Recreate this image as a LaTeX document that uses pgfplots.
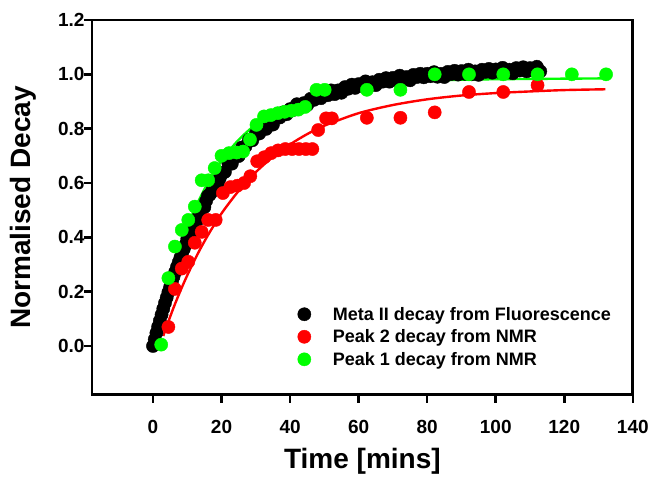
\documentclass[border=0pt]{standalone}
\usepackage{fontspec}
\setmainfont{Liberation Sans}
\usepackage{pgfplots}
\pgfplotsset{compat=1.18}
\definecolor{ngreen}{RGB}{0,255,0}
\definecolor{nred}{RGB}{255,0,0}

\begin{document}
\begin{tikzpicture}
\begin{axis}[
    scale only axis,
    width=541pt, height=375pt,
    xmin=-17.8, xmax=140,
    ymin=-0.18, ymax=1.2,
    xtick={0,20,40,60,80,100,120,140},
    ytick={0,0.2,0.4,0.6,0.8,1.0,1.2},
    yticklabel style={xshift=4pt, /pgf/number format/.cd, fixed, fixed zerofill, precision=1},
    /pgf/number format/assume math mode=true,
    tick label style={font=\fontsize{19}{22}\selectfont\bfseries},
    xticklabel style={yshift=-14pt},
    xtick pos=bottom, ytick pos=left,
    tick align=outside,
    major tick length=8pt,
    tick style={black, line width=2.6pt},
    axis line style={line width=2.8pt},
    xlabel={Time [mins]},
    ylabel={Normalised Decay},
    label style={font=\fontsize{28}{32}\selectfont\bfseries},
    xlabel style={at={(axis description cs:0.5,-0.1773)}, anchor=center},
    ylabel style={at={(axis description cs:-0.1275,0.5)}, anchor=center},
    legend cell align=left,
    legend style={draw=none, fill=none, at={(0.3745,0.155)}, anchor=west,
        font=\fontsize{18}{21}\selectfont\bfseries, row sep=4pt,
        /tikz/every odd column/.append style={column sep=20pt}},
]
% Meta II decay from Fluorescence
\addplot[only marks, mark=*, mark size=6.6pt, color=black] coordinates {
(0,0.000) (0.5,0.024) (1,0.048) (1.5,0.071) (2,0.093) (2.5,0.115) (3,0.137) (3.5,0.158) (4,0.178) (4.5,0.198)
(5,0.217) (5.5,0.236) (6,0.255) (6.5,0.273) (7,0.291) (7.5,0.308) (8,0.325) (8.5,0.341) (9,0.357) (9.5,0.373)
(10,0.394) (10.5,0.402) (11,0.413) (11.5,0.432) (12,0.456) (12.5,0.459) (13,0.464) (13.5,0.485) (14,0.500) (14.5,0.510)
(15,0.511) (15.5,0.534) (16,0.552) (16.5,0.556) (17,0.565) (17.5,0.578) (18,0.597) (18.5,0.598) (19,0.602) (19.5,0.618)
(20,0.633) (21,0.641) (22,0.672) (23,0.671) (24,0.697) (25,0.699) (26,0.731) (27,0.735) (28,0.759) (29,0.757)
(30,0.781) (31,0.782) (32,0.806) (33,0.799) (34,0.818) (35,0.815) (36,0.841) (37,0.841) (38,0.860) (39,0.853)
(40,0.872) (41,0.869) (42,0.890) (43,0.878) (44,0.894) (45,0.887) (46,0.910) (47,0.906) (48,0.922) (49,0.912)
(50,0.929) (51,0.923) (52,0.941) (53,0.927) (54,0.941) (55,0.932) (56,0.953) (57,0.947) (58,0.962) (59,0.950)
(60,0.964) (61,0.957) (62,0.974) (63,0.958) (64,0.971) (65,0.960) (66,0.980) (67,0.973) (68,0.986) (69,0.973)
(70,0.987) (71,0.979) (72,0.995) (73,0.978) (74,0.990) (75,0.978) (76,0.998) (77,0.990) (78,1.002) (79,0.989)
(80,1.002) (81,0.993) (82,1.008) (83,0.991) (84,1.002) (85,0.990) (86,1.009) (87,1.001) (88,1.013) (89,0.999)
(90,1.012) (91,1.002) (92,1.017) (93,1.000) (94,1.011) (95,0.998) (96,1.017) (97,1.009) (98,1.020) (99,1.006)
(100,1.018) (101,1.009) (102,1.024) (103,1.006) (104,1.017) (105,1.004) (106,1.023) (107,1.014) (108,1.026) (109,1.011)
(110,1.023) (111,1.014) (112,1.028) (113,1.011)
};
\addlegendentry{Meta II decay from Fluorescence}
\addplot[black, line width=2.4pt, smooth, forget plot] coordinates {
(0,0) (2,0.093) (4,0.178) (6,0.255) (8,0.325) (10,0.388) (13,0.472) (16,0.545) (20,0.627)
(25,0.710) (30,0.775) (35,0.826) (40,0.866) (45,0.898) (50,0.923) (55,0.943) (60,0.958)
(70,0.981) (80,0.996) (90,1.006) (100,1.012) (113,1.019)
};
% Peak 2 decay from NMR
\addplot[only marks, mark=*, mark size=6.6pt, color=nred] coordinates {
(4.5,0.07) (6.4,0.21) (8.4,0.285) (10.3,0.31) (12.2,0.38) (14.2,0.42) (16.1,0.464) (18.3,0.464)
(20.4,0.563) (22.6,0.585) (24.6,0.59) (26.6,0.60) (28.4,0.625) (30.4,0.68) (32.5,0.695) (34.5,0.71)
(36.5,0.72) (38.6,0.725) (40.6,0.725) (42.6,0.725) (44.6,0.725) (46.5,0.725) (48.2,0.795) (50.5,0.838)
(52.2,0.838) (62.4,0.84) (72.2,0.84) (82.2,0.86) (92.2,0.935) (102.2,0.935) (112.2,0.96)
};
\addlegendentry{Peak 2 decay from NMR}
\addplot[nred, line width=2.4pt, smooth, forget plot] coordinates {
(3,0.037) (4,0.073) (6,0.141) (8,0.203) (10,0.260) (13,0.338) (16,0.407) (20,0.488) (25,0.571)
(30,0.640) (35,0.696) (40,0.742) (45,0.780) (50,0.811) (60,0.857) (70,0.887) (80,0.908)
(90,0.922) (100,0.931) (110,0.937) (120,0.942) (132,0.945)
};
% Peak 1 decay from NMR
\addplot[only marks, mark=*, mark size=6.6pt, color=ngreen] coordinates {
(2.4,0.005) (4.5,0.25) (6.4,0.366) (8.4,0.427) (10.3,0.464) (12.2,0.513) (14.2,0.61) (16.1,0.61)
(18,0.655) (20,0.70) (22.2,0.71) (24.4,0.712) (26.3,0.716) (28.3,0.76) (30.2,0.814) (32.4,0.845)
(34.4,0.85) (36.4,0.857) (38.4,0.862) (40.4,0.866) (42.4,0.87) (44.4,0.88) (47.7,0.943) (50.1,0.943)
(62.4,0.943) (72.2,0.943) (82.2,1.0) (92.2,1.0) (102.2,1.0) (112.2,1.0) (122.2,1.0) (132.2,1.0)
};
\addlegendentry{Peak 1 decay from NMR}
\addplot[ngreen, line width=2.4pt, smooth, forget plot] coordinates {
(2.5,0.135) (4,0.207) (6,0.293) (8,0.370) (10,0.438) (12,0.499) (15,0.577) (18,0.643) (21,0.699)
(25,0.759) (30,0.816) (35,0.859) (40,0.891) (45,0.915) (50,0.933) (60,0.956) (70,0.969)
(80,0.976) (90,0.980) (100,0.982) (110,0.983) (120,0.984) (132,0.985)
};
\end{axis}
\path (current axis.south west) ++(-92pt,-80pt) rectangle ++(652pt,475pt);
\end{tikzpicture}
\end{document}
